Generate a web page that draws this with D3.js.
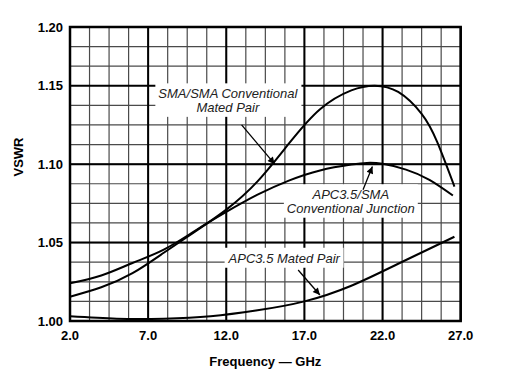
<!DOCTYPE html>
<html>
<head>
<meta charset="utf-8">
<script src="https://cdn.jsdelivr.net/npm/d3@7"></script>
<style>
  body { margin: 0; background: #fff; }
  text { font-family: "Liberation Sans", Arial, sans-serif; }
</style>
</head>
<body>
<div id="chart"></div>
<script>
// Data
const xTicks = [2, 7, 12, 17, 22, 27];
const xTickLabels = ["2.0", "7.0", "12.0", "17.0", "22.0", "27.0"];
const yTicks = [1.00, 1.05, 1.10, 1.15, 1.20];
const yTickLabels = ["1.00", "1.05", "1.10", "1.15", "1.20"];

const smaFreq = [2, 4, 6, 8, 10, 12, 14, 16, 18, 20, 21.5, 23, 24.5, 25.5, 26.6];
const smaVswr = [1.0155, 1.0215, 1.0305, 1.0435, 1.057, 1.071, 1.089, 1.113, 1.135, 1.147, 1.150, 1.146, 1.132, 1.114, 1.0857];

const junctionFreq = [2, 4, 6, 8, 10, 12, 14, 16, 18, 20, 21, 22, 23.5, 25, 26.5];
const junctionVswr = [1.024, 1.029, 1.037, 1.0455, 1.0575, 1.0695, 1.0805, 1.0895, 1.096, 1.0997, 1.1008, 1.1002, 1.0965, 1.090, 1.080];

const matedFreq = [2, 5, 8, 11, 14, 17, 20, 23, 26.6];
const matedVswr = [1.0030, 1.0015, 1.0015, 1.003, 1.0068, 1.0125, 1.0225, 1.0365, 1.0537];

const series = [
  { name: "sma", freq: smaFreq, vswr: smaVswr },
  { name: "junction", freq: junctionFreq, vswr: junctionVswr },
  { name: "mated", freq: matedFreq, vswr: matedVswr }
];

// callouts: label lines, label centre, arrow from -> to (data units)
const callouts = [
  { lines: ["SMA/SMA Conventional", "Mated Pair"], at: [12.1, 1.1405], from: [12.98, 1.125], to: [15.1, 1.100] },
  { lines: ["APC3.5/SMA", "Conventional Junction"], at: [19.97, 1.0762], from: [20.75, 1.0837], to: [21.35, 1.0985] },
  { lines: ["APC3.5 Mated Pair"], at: [15.71, 1.040], from: [16.6, 1.0325], to: [17.99, 1.0166] }
];

const width = 511, height = 387;
const plotLeft = 70, plotRight = 460.7, plotTop = 27, plotBottom = 321;

const x = d3.scaleLinear().domain([2, 27]).range([plotLeft, plotRight]);
// the reference squeezes the top band (1.15 - 1.20) into three grid rows
const y = d3.scaleLinear().domain([1.00, 1.15, 1.20]).range([plotBottom, 85.7, plotTop]);

const svg = d3.select("#chart").append("svg")
  .attr("width", width)
  .attr("height", height);

// grid
const xMinor = d3.range(0, 21).map(i => 2 + i * 1.25);
const yMinor = d3.range(0, 12).map(i => 1 + i * 0.0125).concat([1.15 + 0.05 / 3, 1.15 + 0.1 / 3]);

const grid = svg.append("g");
grid.selectAll(".vminor").data(xMinor).enter().append("line")
  .attr("x1", d => x(d)).attr("x2", d => x(d))
  .attr("y1", plotTop).attr("y2", plotBottom)
  .attr("stroke", "#4a4a4a").attr("stroke-width", 1.2);
grid.selectAll(".hminor").data(yMinor).enter().append("line")
  .attr("y1", d => y(d)).attr("y2", d => y(d))
  .attr("x1", plotLeft).attr("x2", plotRight)
  .attr("stroke", "#4a4a4a").attr("stroke-width", 1.2);
grid.selectAll(".vmajor").data(xTicks).enter().append("line")
  .attr("x1", d => x(d)).attr("x2", d => x(d))
  .attr("y1", plotTop).attr("y2", plotBottom)
  .attr("stroke", "#000").attr("stroke-width", 2);
grid.selectAll(".hmajor").data(yTicks).enter().append("line")
  .attr("y1", d => y(d)).attr("y2", d => y(d))
  .attr("x1", plotLeft).attr("x2", plotRight)
  .attr("stroke", "#000").attr("stroke-width", 2);

// callout labels with white knock-out boxes
const labels = svg.append("g");
callouts.forEach(c => {
  const g = labels.append("g");
  const t = g.append("text")
    .attr("text-anchor", "middle")
    .attr("font-size", 13)
    .attr("font-style", "italic")
    .attr("fill", "#222");
  const lh = 13.5;
  c.lines.forEach((line, i) => {
    t.append("tspan")
      .attr("x", x(c.at[0]))
      .attr("y", y(c.at[1]) + 4.5 + (i - (c.lines.length - 1) / 2) * lh)
      .text(line);
  });
  const bb = t.node().getBBox();
  g.insert("rect", "text")
    .attr("x", bb.x - 3).attr("y", bb.y - 3)
    .attr("width", bb.width + 6).attr("height", bb.height + 5)
    .attr("fill", "#fff");
});

// frame
svg.append("rect")
  .attr("x", plotLeft).attr("y", plotTop)
  .attr("width", plotRight - plotLeft).attr("height", plotBottom - plotTop)
  .attr("fill", "none").attr("stroke", "#000").attr("stroke-width", 2.5);

// curves
const line = d3.line()
  .x(d => x(d[0]))
  .y(d => y(d[1]))
  .curve(d3.curveNatural);

svg.selectAll(".curve").data(series).enter().append("path")
  .attr("d", s => line(s.freq.map((f, i) => [f, s.vswr[i]])))
  .attr("fill", "none")
  .attr("stroke", "#000")
  .attr("stroke-width", 2);

// arrows
svg.append("defs").append("marker")
  .attr("id", "head")
  .attr("viewBox", "0 0 10 10")
  .attr("refX", 10).attr("refY", 5)
  .attr("markerWidth", 12).attr("markerHeight", 7)
  .attr("markerUnits", "userSpaceOnUse")
  .attr("orient", "auto")
  .append("path").attr("d", "M0,0L10,5L0,10z").attr("fill", "#000");

svg.selectAll(".arrow").data(callouts).enter().append("line")
  .attr("x1", c => x(c.from[0])).attr("y1", c => y(c.from[1]))
  .attr("x2", c => x(c.to[0])).attr("y2", c => y(c.to[1]))
  .attr("stroke", "#000").attr("stroke-width", 1.3)
  .attr("marker-end", "url(#head)");

// tick labels
svg.selectAll(".xt").data(xTicks).enter().append("text")
  .attr("x", d => x(d)).attr("y", 340)
  .attr("text-anchor", "middle")
  .attr("font-size", 13).attr("font-weight", "bold")
  .text((d, i) => xTickLabels[i]);

svg.selectAll(".yt").data(yTicks).enter().append("text")
  .attr("x", 63).attr("y", d => y(d) + 4.5)
  .attr("text-anchor", "end")
  .attr("font-size", 13).attr("font-weight", "bold")
  .text((d, i) => yTickLabels[i]);

// axis titles
svg.append("text")
  .attr("x", (plotLeft + plotRight) / 2).attr("y", 366)
  .attr("text-anchor", "middle")
  .attr("font-size", 13).attr("font-weight", "bold")
  .text("Frequency \u2014 GHz");

svg.append("text")
  .attr("transform", "translate(23,157) rotate(-90)")
  .attr("text-anchor", "middle")
  .attr("font-size", 13).attr("font-weight", "bold")
  .text("VSWR");
</script>
</body>
</html>
